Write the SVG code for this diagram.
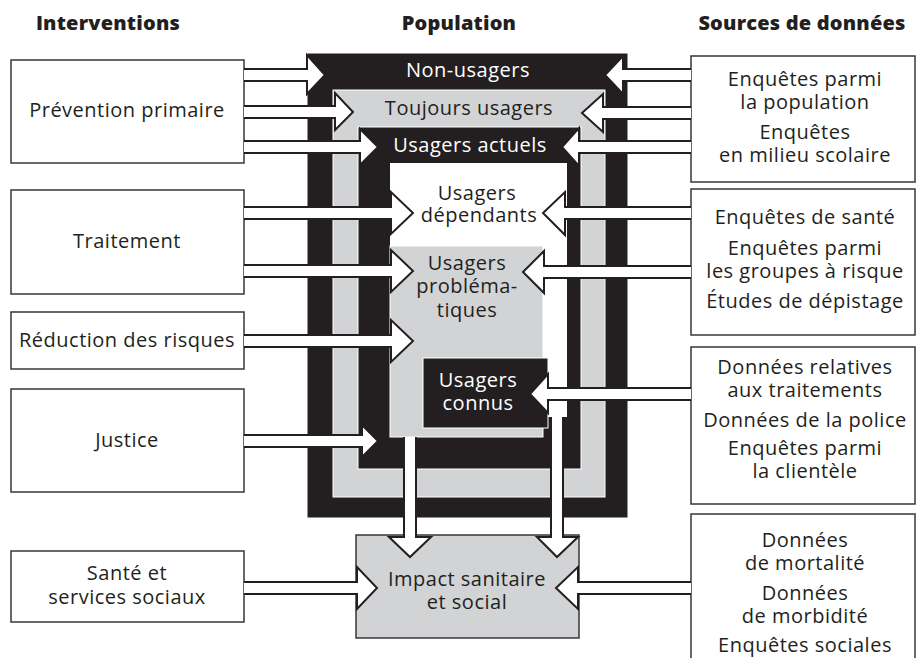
<svg xmlns="http://www.w3.org/2000/svg" width="916" height="658" viewBox="0 0 916 658">
<style>
text{font-family:"Open Sans","Noto Sans","Liberation Sans",sans-serif;font-size:20px;letter-spacing:0.5px;fill:#231f20;text-anchor:middle}
.h{font-weight:800;letter-spacing:0.2px}
.w{fill:#ffffff}
.box{fill:#ffffff;stroke:#3a3637;stroke-width:1.5}
.blk{fill:#231f20;stroke:#ffffff;stroke-width:1}
.gry{fill:#d1d3d4;stroke:#ffffff;stroke-width:1}
.arr{fill:#ffffff;stroke:#231f20;stroke-width:2;stroke-linejoin:miter}
</style>
<rect width="916" height="658" fill="#ffffff"/>
<g id="headers">
<text class="h" x="108" y="30">Interventions</text>
<text class="h" x="459" y="30">Population</text>
<text class="h" x="802" y="30">Sources de données</text>
</g>
<g id="population">
<rect class="blk" x="307" y="53" width="321" height="465" stroke="none"/>
<rect class="gry" x="333" y="90" width="272" height="407"/>
<rect class="blk" x="358" y="127" width="223" height="342"/>
<rect x="390" y="163" width="177" height="254" fill="#ffffff"/>
<text class="w" x="468" y="77">Non-usagers</text>
<text x="469" y="115">Toujours usagers</text>
<text class="w" x="470" y="152">Usagers actuels</text>
</g>
<g id="dependants">
<text x="477" y="200">Usagers</text>
<text x="479" y="222">dépendants</text>
</g>
<g id="problematiques">
<rect class="gry" x="390" y="246" width="153" height="191"/>
<text x="467" y="270">Usagers</text>
<text x="467" y="293">probléma-</text>
<text x="467" y="317">tiques</text>
</g>
<g id="connus">
<rect class="blk" x="423" y="358" width="125" height="70"/>
<text class="w" x="478" y="387">Usagers</text>
<text class="w" x="478" y="410">connus</text>
</g>
<g id="impact">
<rect x="356" y="535" width="223" height="103" fill="#d1d3d4" stroke="#3a3637" stroke-width="1.5"/>
<text x="467" y="586">Impact sanitaire</text>
<text x="467" y="609">et social</text>
</g>
<g id="prevention">
<rect class="box" x="11" y="60" width="233" height="103"/>
<text x="127" y="117">Prévention primaire</text>
</g>
<g id="traitement">
<rect class="box" x="11" y="190" width="233" height="104"/>
<text x="127" y="248">Traitement</text>
</g>
<g id="reduction">
<rect class="box" x="11" y="312" width="233" height="57"/>
<text x="127" y="347">Réduction des risques</text>
</g>
<g id="justice">
<rect class="box" x="11" y="389" width="233" height="103"/>
<text x="127" y="447">Justice</text>
</g>
<g id="sante">
<rect class="box" x="11" y="551" width="233" height="71"/>
<text x="127" y="580">Santé et</text>
<text x="127" y="604">services sociaux</text>
</g>
<g id="src-enquetes-pop">
<rect class="box" x="691" y="56" width="224" height="126"/>
<text x="805" y="86">Enquêtes parmi</text>
<text x="805" y="109">la population</text>
<text x="805" y="139">Enquêtes</text>
<text x="805" y="162">en milieu scolaire</text>
</g>
<g id="src-sante">
<rect class="box" x="691" y="189" width="224" height="146"/>
<text x="805" y="224">Enquêtes de santé</text>
<text x="805" y="255">Enquêtes parmi</text>
<text x="805" y="278">les groupes à risque</text>
<text x="805" y="308">Études de dépistage</text>
</g>
<g id="src-traitements">
<rect class="box" x="691" y="347" width="224" height="157"/>
<text x="805" y="374">Données relatives</text>
<text x="805" y="397">aux traitements</text>
<text x="805" y="427">Données de la police</text>
<text x="805" y="455">Enquêtes parmi</text>
<text x="805" y="478">la clientèle</text>
</g>
<g id="src-mortalite">
<rect class="box" x="691" y="514" width="224" height="150"/>
<text x="805" y="547">Données</text>
<text x="805" y="570">de mortalité</text>
<text x="805" y="600">Données</text>
<text x="805" y="623">de morbidité</text>
<text x="805" y="652">Enquêtes sociales</text>
</g>
<g id="connectors">
<path class="arr" d="M244,69 L307,69 L307,55 L325,75 L307,94 L307,81 L244,81"/>
<path class="arr" d="M244,106 L335,106 L335,93 L353,112 L335,130 L335,118 L244,118"/>
<path class="arr" d="M244,141 L360,141 L360,129 L378,147 L360,165 L360,153 L244,153"/>
<path class="arr" d="M244,207 L391,207 L391,192 L413,213 L391,234 L391,219 L244,219"/>
<path class="arr" d="M244,265 L391,265 L391,250 L413,271 L391,292 L391,277 L244,277"/>
<path class="arr" d="M244,335 L391,335 L391,320 L413,341 L391,362 L391,347 L244,347"/>
<path class="arr" d="M244,435 L362,435 L362,425 L378,441 L362,457 L362,447 L244,447"/>
<path class="arr" d="M244,582 L357,582 L357,567 L377,588 L357,609 L357,594 L244,594"/>
<path class="arr" d="M691,69 L623,69 L623,56 L605,75 L623,94 L623,81 L691,81"/>
<path class="arr" d="M691,107 L603,107 L603,94 L582,113 L603,132 L603,119 L691,119"/>
<path class="arr" d="M691,141 L579,141 L579,128 L562,147 L579,166 L579,153 L691,153"/>
<path class="arr" d="M691,207 L565,207 L565,192 L543,213 L565,235 L565,219 L691,219"/>
<path class="arr" d="M691,266 L544,266 L544,251 L523,272 L544,293 L544,278 L691,278"/>
<path class="arr" d="M691,388 L548,388 L548,374 L530,394 L548,413 L548,400 L691,400"/>
<path class="arr" d="M691,582 L578,582 L578,567 L556,588 L578,609 L578,594 L691,594"/>
<path class="arr" d="M404,437 L404,537 L389,537 L410,557 L431,537 L416,537 L416,437"/>
<path class="arr" d="M551,417 L551,537 L537,537 L557,557 L578,537 L563,537 L563,417"/>
</g>
</svg>
